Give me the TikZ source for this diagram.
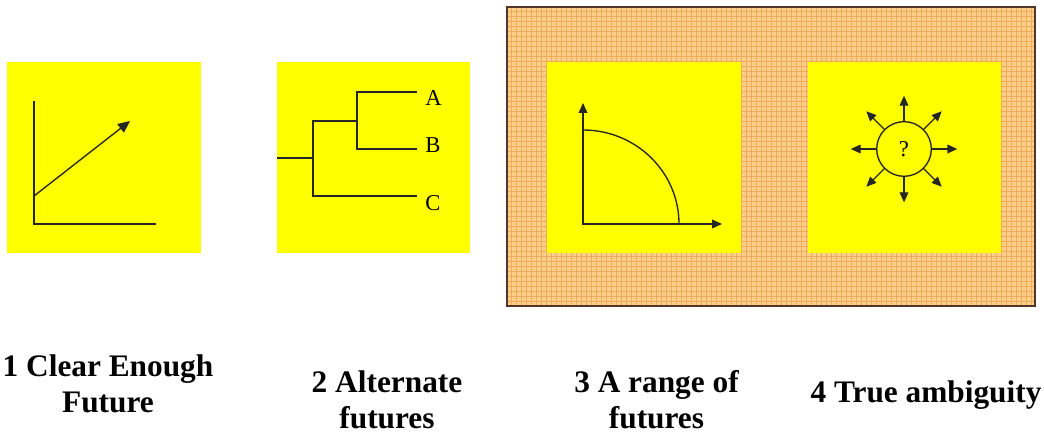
\documentclass[tikz,border=0pt]{standalone}
\usepackage{fontspec}
\setmainfont{Liberation Serif}
\usetikzlibrary{positioning, arrows.meta}

\definecolor{panelyellow}{RGB}{255,255,0}
\definecolor{rangefill}{RGB}{252,206,140}
\definecolor{rangegrid}{RGB}{238,172,88}
\definecolor{rangeborder}{RGB}{80,55,40}

\begin{document}
\begin{tikzpicture}[
    x=0.75pt, y=-0.75pt,
    >={Triangle[length=7.5pt, width=6.5pt]},
    % Panels and backdrop
    panel/.style={fill=panelyellow, draw=none, rectangle, minimum width=145pt, minimum height=143pt, inner sep=0pt},
    backdrop/.style={fill=rangefill, draw=rangeborder, line width=1.2pt, rectangle, minimum width=396pt, minimum height=224pt, inner sep=0pt},
    grid_line/.style={draw=rangegrid, line width=0.35pt},
    % Drawing styles
    axis/.style={draw=black!85, line width=1pt},
    leaf/.style={font=\fontsize{17}{20}\selectfont, inner sep=0pt},
    bubble/.style={draw=black!85, line width=1pt, circle, minimum size=41pt, inner sep=0pt, font=\fontsize{17}{20}\selectfont},
    caption/.style={font=\fontsize{23.5}{27}\selectfont\bfseries, align=center, anchor=north, inner sep=0pt}
]
    \useasboundingbox (0,0) rectangle (1044,434);

    % ==================== Orange backdrop (panels 3 and 4) ====================
    \node (range_box) [backdrop] at (771,156.5) {};
    \foreach \gx in {511,516,...,1031}
        \draw [grid_line] (\gx,8) -- (\gx,305);
    \foreach \gy in {11,16,...,301}
        \draw [grid_line] (508,\gy) -- (1034,\gy);

    % ==================== Yellow panels ====================
    \node (panel1) [panel] at (104,157.5) {};
    \node (panel2) [panel] at (373.5,157.5) {};
    \node (panel3) [panel] at (644,157.5) {};
    \node (panel4) [panel] at (904.5,157.5) {};

    % Panel 1: a single trend
    \draw [axis] (34,101) -- (34,224) -- (156,224);
    \draw [axis, ->, >={Triangle[length=9pt, width=8pt]}] (34,196) -- (130,121);

    % Panel 2: branching tree
    \draw [axis] (277,158) -- (313,158);
    \draw [axis] (417,196) -- (313,196) -- (313,121) -- (357,121);
    \draw [axis] (417,92) -- (357,92) -- (357,149) -- (417,149);
    \node (leaf_a) [leaf, anchor=west] at (425,98) {A};
    \node (leaf_b) [leaf, anchor=west] at (425,145) {B};
    \node (leaf_c) [leaf, anchor=west] at (425,203) {C};

    % Panel 3: range of outcomes
    \draw [axis, <->] (583,103) -- (583,224) -- (722,224);
    \draw [axis] (583,130) arc[start angle=90, end angle=0, x radius=72pt, y radius=70.5pt];

    % Panel 4: arrows in every direction
    \node (query) [bubble] at (904,149) {?};
    \foreach \ang in {0,45,...,315}
        \draw [axis, ->] (query.\ang) -- ++(\ang:19pt);

    % ==================== Captions ====================
    \node (caption1) [caption] at (108,354) {1 Clear Enough\\Future};
    \node (caption2) [caption] at (387,370) {2 Alternate\\futures};
    \node (caption3) [caption] at (656.5,370) {3 A range of\\futures};
    \node (caption4) [caption] at (926,380) {4 True ambiguity};

\end{tikzpicture}
\end{document}
